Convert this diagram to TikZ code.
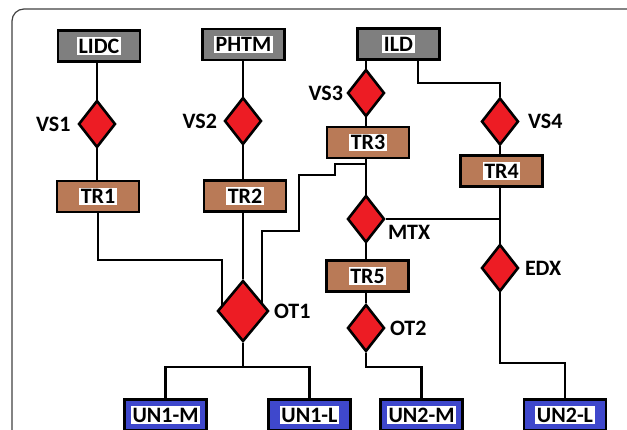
\documentclass[tikz,border=0pt]{standalone}
\usepackage{fontspec}
\setmainfont{Carlito}
\usetikzlibrary{shapes.geometric,positioning,backgrounds}
\definecolor{srcgray}{RGB}{127,127,127}
\definecolor{trbrown}{RGB}{185,122,87}
\definecolor{unblue}{RGB}{63,72,204}
\definecolor{opred}{RGB}{237,28,36}
\newcommand{\whitetag}[1]{{\setlength{\fboxsep}{1.5pt}\colorbox{white}{#1}}}

\begin{document}
\begin{tikzpicture}[x=1pt, y=-1pt,
    box/.style={draw, line width=2.8pt, minimum width=82pt, minimum height=31pt, inner sep=0pt, font=\fontsize{22}{22}\selectfont\bfseries},
    src/.style={box, fill=srcgray},
    tr/.style={box, fill=trbrown},
    un/.style={box, fill=unblue},
    op/.style={draw, diamond, fill=opred, line width=2.6pt, minimum width=37pt, minimum height=47pt, inner sep=0pt},
    tag/.style={font=\fontsize{22}{22}\selectfont\bfseries, inner sep=1pt},
    wire/.style={line width=2.8pt}
]
\useasboundingbox (0,0) rectangle (627,429);
\draw[line width=1.2pt, black!75, rounded corners=12pt] (12,432) -- (12,9) -- (630,9);

% sources
\node[src] (LIDC) at (99,46) {\whitetag{LIDC}};
\node[src] (PHTM) at (243.5,44.5) {\whitetag{PHTM}};
\node[src] (ILD) at (398.5,44) {\whitetag{ILD}};

% selection
\node[op] (VS1) at (97,124) {};
\node[op] (VS2) at (243,121) {};
\node[op] (VS3) at (366,93) {};
\node[op] (VS4) at (500,121.5) {};
\node[tag, left=5.5pt of VS1] (lVS1) {VS1};
\node[tag, left=5pt of VS2] (lVS2) {VS2};
\node[tag, left=2pt of VS3] (lVS3) {VS3};
\node[tag, right=7pt of VS4] (lVS4) {VS4};

% transforms
\node[tr] (TR1) at (98,196.5) {\whitetag{TR1}};
\node[tr] (TR2) at (245,196) {\whitetag{TR2}};
\node[tr] (TR3) at (368,142.5) {\whitetag{TR3}};
\node[tr] (TR4) at (501.5,171) {\whitetag{TR4}};
\node[tr] (TR5) at (367.5,276) {\whitetag{TR5}};

% operators
\node[op] (MTX) at (366,219) {};
\node[op] (EDX) at (500,268) {};
\node[op] (OT2) at (366,328) {};
\node[op, minimum width=51pt, minimum height=61pt] (OT1) at (243,311) {};
\node[tag, anchor=west, xshift=1pt, yshift=-13pt] (lMTX) at (MTX.east) {MTX};
\node[tag, right=4pt of EDX] (lEDX) {EDX};
\node[tag, right=3pt of OT2] (lOT2) {OT2};
\node[tag, right=3pt of OT1] (lOT1) {OT1};

% outputs
\node[un] (UN1M) at (165.5,415) {\whitetag{UN1-M}};
\node[un] (UN1L) at (309.5,415) {\whitetag{UN1-L}};
\node[un] (UN2M) at (421.5,415) {\whitetag{UN2-M}};
\node[un] (UN2L) at (565,415) {\whitetag{UN2-L}};

% bends
\coordinate (ildknee) at (418,83);
\coordinate (tr1knee) at (222,260);
\coordinate (s1) at (335,164);
\coordinate (s2) at (299,175);
\coordinate (s3) at (262,231);
\coordinate (unbar) at (0,367);
\coordinate (edxbar) at (0,363);

\begin{scope}[on background layer]
\draw[wire] (VS1 |- LIDC) -- (VS1 |- TR1);
\draw[wire] (VS2 |- PHTM) -- (OT1);
\draw[wire] (VS3 |- ILD) -- (OT2) |- (UN2M |- unbar) -- (UN2M);
\draw[wire] (ildknee |- ILD) -- (ildknee) -| (VS4);
\draw[wire] (VS4) -- (VS4 |- EDX) |- (UN2L |- edxbar) -- (UN2L);
\draw[wire] (MTX) -- (MTX -| VS4);
\draw[wire] (TR1) |- (tr1knee) -- (tr1knee |- OT1);
\draw[wire] (VS3 |- s1) -- (s1) |- (s2) |- (s3) -- (s3 |- OT1);
\draw[wire] (OT1) -- (OT1 |- unbar);
\draw[wire] (UN1M) |- (UN1L |- unbar) -- (UN1L);
\end{scope}
\end{tikzpicture}
\end{document}
